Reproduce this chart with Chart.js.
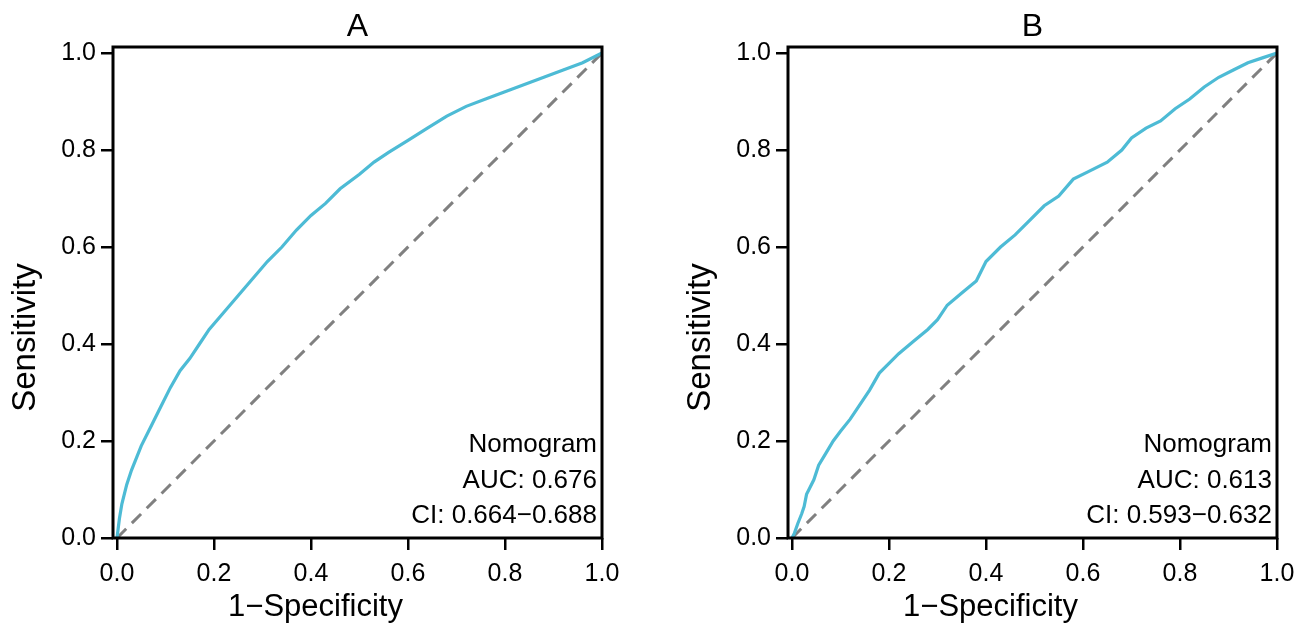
<!DOCTYPE html>
<html>
<head>
<meta charset="utf-8">
<script src="https://cdn.jsdelivr.net/npm/chart.js@4.4.1/dist/chart.umd.min.js"></script>
<style>
  body { margin: 0; background: #fff; }
  #wrap { position: relative; width: 1305px; height: 627px; }
  canvas { position: absolute; top: 0; }
</style>
</head>
<body>
<div id="wrap">
  <canvas id="rocA" width="652" height="627" style="left:0"></canvas>
  <canvas id="rocB" width="653" height="627" style="left:652px"></canvas>
</div>
<script>
// ROC curve points (1-specificity, sensitivity)
const fprA = [0, 0.005, 0.01, 0.02, 0.03, 0.05, 0.07, 0.09, 0.11, 0.13, 0.15, 0.17, 0.19, 0.22, 0.25, 0.28, 0.31, 0.34, 0.37, 0.40, 0.43, 0.46, 0.50, 0.53, 0.56, 0.60, 0.64, 0.68, 0.72, 0.76, 0.80, 0.84, 0.88, 0.92, 0.96, 1];
const tprA = [0, 0.04, 0.07, 0.11, 0.14, 0.19, 0.23, 0.27, 0.31, 0.345, 0.37, 0.40, 0.43, 0.465, 0.50, 0.535, 0.57, 0.60, 0.635, 0.665, 0.69, 0.72, 0.75, 0.775, 0.795, 0.82, 0.845, 0.87, 0.89, 0.905, 0.92, 0.935, 0.95, 0.965, 0.98, 1];

const fprB = [0, 0.005, 0.012, 0.02, 0.025, 0.03, 0.035, 0.045, 0.055, 0.07, 0.085, 0.1, 0.12, 0.14, 0.16, 0.18, 0.2, 0.22, 0.25, 0.28, 0.3, 0.32, 0.35, 0.38, 0.4, 0.43, 0.46, 0.49, 0.52, 0.55, 0.58, 0.61, 0.65, 0.68, 0.7, 0.73, 0.76, 0.79, 0.82, 0.85, 0.88, 0.91, 0.94, 0.97, 1];
const tprB = [0, 0.01, 0.03, 0.05, 0.065, 0.09, 0.1, 0.12, 0.15, 0.175, 0.2, 0.22, 0.245, 0.275, 0.305, 0.34, 0.36, 0.38, 0.405, 0.43, 0.45, 0.48, 0.505, 0.53, 0.57, 0.6, 0.625, 0.655, 0.685, 0.705, 0.74, 0.755, 0.775, 0.8, 0.825, 0.845, 0.86, 0.885, 0.905, 0.93, 0.95, 0.965, 0.98, 0.99, 1];

const tickValues = [0, 0.2, 0.4, 0.6, 0.8, 1.0];
const diagonal = [0, 1];
const textA = ['Nomogram', 'AUC: 0.676', 'CI: 0.664\u22120.688'];
const textB = ['Nomogram', 'AUC: 0.613', 'CI: 0.593\u22120.632'];
const xLabel = '1\u2212Specificity';
const yLabel = 'Sensitivity';

const FONT = '"Liberation Sans", Arial, Helvetica, sans-serif';
Chart.defaults.font.family = FONT;
Chart.defaults.color = '#000';

// box around the plot, panel letter, axis labels and the AUC text
const frame = {
  id: 'frame',
  afterDatasetsDraw(chart, args, opts) {
    const { ctx, chartArea: a } = chart;
    const cx = (a.left + a.right) / 2;
    const cy = (a.top + a.bottom) / 2;
    ctx.save();
    ctx.lineWidth = 3;
    ctx.strokeStyle = '#000';
    ctx.strokeRect(a.left, a.top, a.right - a.left, a.bottom - a.top);
    ctx.fillStyle = '#000';

    ctx.font = '32px ' + FONT;
    ctx.textAlign = 'center';
    ctx.fillText(opts.title, cx, 36);

    ctx.font = '31px ' + FONT;
    ctx.fillText(xLabel, cx - 42, 616);

    ctx.save();
    ctx.translate(a.left - 87, cy + 45);
    ctx.rotate(-Math.PI / 2);
    ctx.font = '33px ' + FONT;
    ctx.textBaseline = 'middle';
    ctx.fillText(yLabel, 0, 0);
    ctx.restore();

    ctx.font = '26px ' + FONT;
    ctx.textAlign = 'right';
    opts.lines.forEach((t, i) => ctx.fillText(t, a.right - 5, a.bottom - 86 + i * 35.5));
    ctx.restore();
  }
};

function rocChart(id, fpr, tpr, title, lines, axisWidth, padRight) {
  const tickOpts = {
    font: { size: 25 },
    color: '#000',
    callback: v => v.toFixed(1)
  };
  const gridOpts = {
    drawOnChartArea: false,
    drawTicks: true,
    tickLength: 12,
    color: '#000',
    lineWidth: 2.5
  };
  return new Chart(document.getElementById(id), {
    type: 'line',
    data: {
      datasets: [
        {
          data: fpr.map((x, i) => ({ x: x, y: tpr[i] })),
          borderColor: '#4DBBD5',
          borderWidth: 3.2,
          pointRadius: 0,
          tension: 0
        },
        {
          data: diagonal.map(v => ({ x: v, y: v })),
          borderColor: '#808080',
          borderWidth: 3,
          borderDash: [13, 8],
          pointRadius: 0
        }
      ]
    },
    options: {
      responsive: false,
      animation: false,
      layout: { padding: { top: 47, right: padRight, left: 0, bottom: 0 } },
      plugins: {
        legend: { display: false },
        tooltip: { enabled: false },
        frame: { title: title, lines: lines }
      },
      scales: {
        x: {
          type: 'linear',
          min: -0.00825,
          max: 1.0,
          afterBuildTicks: s => { s.ticks = tickValues.map(v => ({ value: v })); },
          afterFit: s => { s.height = 89; },
          ticks: Object.assign({ padding: 9, maxRotation: 0 }, tickOpts),
          grid: gridOpts,
          border: { display: false },
          title: { display: false }
        },
        y: {
          type: 'linear',
          min: 0,
          max: 1.0124,
          afterBuildTicks: s => { s.ticks = tickValues.map(v => ({ value: v })); },
          afterFit: s => { s.width = axisWidth; },
          ticks: Object.assign({ padding: 5 }, tickOpts),
          grid: gridOpts,
          border: { display: false },
          title: { display: false }
        }
      }
    },
    plugins: [frame]
  });
}

rocChart('rocA', fprA, tprA, 'A', textA, 113, 50);
rocChart('rocB', fprB, tprB, 'B', textB, 136, 28);
</script>
</body>
</html>
